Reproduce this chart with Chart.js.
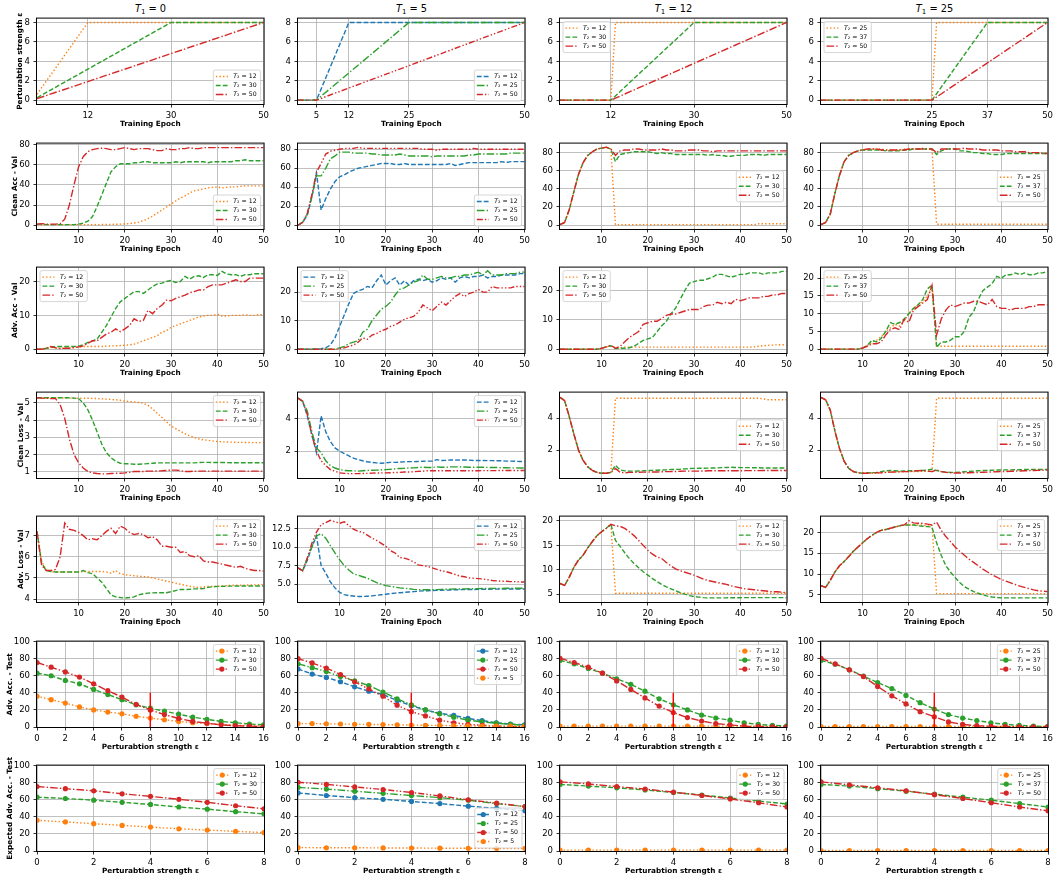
<!DOCTYPE html>
<html>
<head>
<meta charset="utf-8">
<script src="https://cdn.jsdelivr.net/npm/chart.js@4/dist/chart.umd.min.js"></script>
<style>
  body { margin: 0; background: #fff; width: 1056px; height: 878px; position: relative; overflow: hidden; font-family: "DejaVu Sans", sans-serif; }
  .ctitle { position: absolute; top: 2px; width: 227px; text-align: center; font-size: 9.8px; line-height: 14px; color: #000; }
  .ctitle sub { font-size: 7px; line-height: 0; vertical-align: -2px; }
</style>
</head>
<body>
<script>
// ---- axis / label data ----
const colTitles = ['0', '5', '12', '25'];
const rowLabels = ['Perturabtion strength ε', 'Clean Acc - Val', 'Adv. Acc - Val', 'Clean Loss - Val',
                   'Adv. Loss - Val', 'Adv. Acc. - Test', 'Expected Adv. Acc. - Test'];
const rowXTitles = ['Training Epoch', 'Training Epoch', 'Training Epoch', 'Training Epoch', 'Training Epoch',
                    'Perturabtion strength ε', 'Perturabtion strength ε'];

const epochs = [1,2,3,4,5,6,7,8,9,10,11,12,13,14,15,16,17,18,19,20,21,22,23,24,25,
                26,27,28,29,30,31,32,33,34,35,36,37,38,39,40,41,42,43,44,45,46,47,48,49,50];
const eps16 = [0,1,2,3,4,5,6,7,8,9,10,11,12,13,14,15,16];
const eps8 = [0,1,2,3,4,5,6,7,8];
const epochTicks = [10,20,30,40,50];
const eps16Ticks = [0,2,4,6,8,10,12,14,16];
const eps8Ticks = [0,2,4,6,8];

// ---- row 1: perturbation schedule ----
const epsT0_12x = [1,12,50],      epsT0_12y = [0.6,8,8];
const epsT0_30x = [1,30,50],      epsT0_30y = [0.25,8,8];
const epsT0_50x = [1,50],         epsT0_50y = [0.15,8];
const epsT5_12x = [1,5,12,50],    epsT5_12y = [0,0,8,8];
const epsT5_25x = [1,5,25,50],    epsT5_25y = [0,0,8,8];
const epsT5_50x = [1,5,50],       epsT5_50y = [0,0,8];
const epsT12_12x = [1,12,13,50],  epsT12_12y = [0,0,8,8];
const epsT12_30x = [1,12,30,50],  epsT12_30y = [0,0,8,8];
const epsT12_50x = [1,12,50],     epsT12_50y = [0,0,8];
const epsT25_25x = [1,25,26,50],  epsT25_25y = [0,0,8,8];
const epsT25_37x = [1,25,37,50],  epsT25_37y = [0,0,8,8];
const epsT25_50x = [1,25,50],     epsT25_50y = [0,0,8];

// ---- row 2: clean accuracy (val) ----
const caT0_12 = [0.5,0.5,0.5,0.5,0.5,0.5,0.5,0.5,0.5,0.5, 0.5,0.5,0.5,0.5,0.6,0.7,0.8,0.9,1,1.2,
  1.6,2.2,3,4.5,6.5,9,12,15,18,21, 24,27,29,32,34,35,36,37,37.5,38, 37,37.5,38,38,38.5,39,39,39,39,39];
const caT0_30 = [1,1,0.5,0.5,0.5,0.5,0.5,0.5,0.5,1, 2,4,8.5,18.5,30,41.5,53,58,61,61,
  61,62,62,63,63,62,62,62,62,62, 63,62,63,63,63,63,63,62,63,63, 63,63,63,64,64,65,64,64,64,64];
const caT0_50 = [1,1.5,1,1,1,1.5,6,20,40,58, 68,73,75,76,76.5,76,75,75,76,77,
  76,75,76,76,76,75,74,74,76,75, 75,76,76,77,76,76,77,77,77,77, 77,77,77,77,77,77,77,77,77,77];
const caT5_12 = [0,3,10,30,55,16,28,38,46,51, 53,56,58,60,61,62,63,64,65,65,
  65,64,64,65,64,64,64,64,64,64, 64,64,64,65,63,64,65,66,66,66, 66,66,66,66,67,66,67,67,67,67];
const caT5_25 = [0,3,12,30,52,52,60,70,73,77, 77,77,76,76,76,76,75,75,74,74,
  74,74,75,74,73,73,73,73,73,72, 73,73,73,73,73,73,73,74,74,75, 75,75,75,75,75,75,76,76,76,76];
const caT5_50 = [0,3,12,32,56,65,75,78,79,80, 81,81,81,82,81,81,81,81,81,81,
  81,81,81,81,81,81,81,80,80,80, 79,80,80,80,80,80,80,80,81,80, 80,80,80,80,80,80,80,80,80,80];
const caT12_12 = [0.5,3,17,37,56,69,77,81,84,85, 86,84,0.5,0.5,0.5,0.5,0.5,0.5,0.5,0.5,
  0.5,0.5,0.5,0.5,0.5,0.5,0.5,0.5,0.5,0.5, 0.5,0.5,0.5,0.5,0.5,0.5,0.5,0.5,0.5,0.5, 0.5,0.5,0.5,1.5,1.5,1.5,1.5,1.5,1.5,1.5];
const caT12_30 = [0.5,3,17,37,56,69,77,81,84,85, 86,84,70,78,79,80,81,81,81,81,
  80,79,80,79,79,78,78,78,78,78, 78,78,77,78,77,77,76,76,77,77, 77,78,78,78,77,78,78,78,78,78];
const caT12_50 = [0.5,3,17,37,56,69,77,81,84,85, 86,84,77,82,83,83,84,84,83,83,
  83,83,84,83,83,82,82,82,83,83, 83,82,82,81,82,82,82,82,82,82, 82,82,82,82,82,82,82,82,82,82];
const caT25_25 = [0.5,3,12,35,55,70,77,80,82,83, 84,84,84,84,83,83,83,83,84,84,
  84,84,85,84,84,1,1,1,1,1, 1,1,1,1,1,1,1,1,1,1, 1,1,1,1,1,1,1,1,1,1];
const caT25_37 = [0.5,3,12,35,55,70,77,80,82,83, 83,83,83,83,82,82,82,82,83,83,
  84,84,84,84,84,78,82,84,84,84, 82,82,81,80,80,79,79,78,78,78, 79,79,79,79,79,79,79,79,79,79];
const caT25_50 = [0.5,3,12,35,55,70,77,80,82,83, 84,84,84,83,83,83,83,83,83,84,
  84,84,84,84,84,80,84,84,84,84, 84,85,84,84,84,83,83,83,83,82, 82,82,81,81,81,80,80,80,79,79];

// ---- row 3: adversarial accuracy (val) ----
const aaT0_12 = [0,0,0.2,0.5,0.5,0.3,0.3,0.4,0.5,0.6, 0.8,0.8,0.8,0.8,0.8,0.9,1,1,1.1,1.2,
  1.3,1.5,2,2.5,3,3.5,4,5,5.5,6.5, 7,7.5,8,8.5,9,9.5,9.8,10,10,10.3, 9.8,9.8,10,10,10,10.2,10,10,10.2,10.2];
const aaT0_30 = [0,0,0.3,0.7,0.8,0.8,0.8,0.8,0.8,0.9, 1.3,2,2.5,3,5,7,9.5,12,14,15,
  16,17,17,16.5,17.5,18.5,19.3,19.5,20,20.3, 19.7,20,21.5,20.7,21.5,21.7,21.2,22,22,21.8, 23,22.2,22,22,21.5,22,22,22.3,22.3,22.3];
const aaT0_50 = [0,0,0.3,0.8,0.4,0.2,0.3,0.3,0.5,0.7, 1,1.8,2.5,2.5,3.5,4.5,5,6,5.2,6,
  7,9,8.2,8.5,11.5,10.5,12,13,14.5,14.3, 15,15.5,16,16.7,17,17.5,17.5,18.5,19,19, 19,19.5,20,20.5,20,20,21,21,21,21];
const aaT5_12 = [0,0,0,0,0,0.2,0.5,1.5,4,8, 12,16,19.5,20.5,21,22,21.5,24,26,22.5,
  24,25,22.5,24,22.5,24,24.5,24,24.5,23.5, 24,25,24.5,25,23.5,25,25.5,25,25.5,25.5, 26,25,25.5,25.5,26,26,26,26,26.5,26.5];
const aaT5_25 = [0,0,0,0,0,0,0,0,0,0.5, 1,2,2.5,3,6,7,10,12,14,15,
  16.5,19,21,21.5,22.5,23.5,24,26,24.5,24.5, 25,25.5,25,25,25.5,25.5,26,26,26.5,27, 26,27.5,26,26,26,26.5,26.5,26.5,27,27];
const aaT5_50 = [0,0,0,0,0,0,0,0,0,0.2, 0.5,1,1.5,2.5,4,3.5,5,5.5,6.5,7,
  8,8.5,9.5,10.5,11,11.5,13,15.5,14.5,13.5, 15,16.5,15.5,17,18.5,19.5,18.5,19.5,20,21, 20,20,22,21.5,21.5,21.5,21.5,22,22,22];
const aaT12_12 = [0,0,0,0,0,0,0,0,0,0.3, 0.8,1,0.5,0.5,0.7,0.7,0.7,0.7,0.7,0.7,
  0.7,0.7,0.7,0.7,0.7,0.7,0.7,0.7,0.7,0.7, 0.7,0.7,0.7,0.7,0.7,0.7,0.7,0.7,0.7,0.7, 0.7,0.7,0.8,1,1.2,1.3,1.4,1.5,1.5,1.5];
const aaT12_30 = [0,0,0,0,0,0,0,0,0,0.3, 0.8,1.2,0.2,0.3,0.3,0.5,1,2,3,3.5,
  4,6,8,9.5,12,14,17,20,22.5,23, 23.5,23.5,24,24.5,25.5,25.5,25,24.5,25,25.5, 25.5,26,26,26,25.5,26,26,26,26.5,26.5];
const aaT12_50 = [0,0,0,0,0,0,0,0,0,0.3, 0.8,1.3,0.3,1,2.5,4,5,6,8.5,9,
  9.5,9.5,10.5,11.5,12,12,12.5,13,13.5,13.5, 13.5,14.5,15,15,16,15.5,16,15.5,17,16.5, 17,17.5,17.5,17.5,18,18,18.5,18.5,19,19];
const aaT25_25 = [0,0,0,0,0,0,0,0,0,0.3, 1,2,2.5,3.5,5,6,7,6.5,8,10,
  11.5,12.5,13.5,15,17.5,0.8,0.8,0.8,0.8,0.8, 0.8,0.8,0.8,0.8,0.8,0.8,0.8,0.8,0.8,0.8, 0.8,0.8,0.8,0.8,0.8,0.8,0.8,0.8,0.8,0.8];
const aaT25_37 = [0,0,0,0,0,0,0,0,0,0.3, 1,2.5,2,3,5,7.5,7,7.5,8.5,10,
  11.5,12.5,14,17,18,0.5,2,2,2.5,3.5, 3.5,5,9,10.5,14,16.5,17.5,18.5,20.5,20, 21,21,21.5,21,21.5,21,21,21.5,21.5,22];
const aaT25_50 = [0,0,0,0,0,0,0,0,0,0.3, 0.8,1.5,1.5,2,4,5.5,6,5.5,8.5,7.5,
  11,12,13,14,18,4,8.5,11,12.5,12, 12.5,13,13,13.5,13.5,13,12.5,14,12,11.5, 11.5,11,11.5,11.5,11.5,12,12,12.5,12.5,12.5];

// ---- row 4: clean loss (val) ----
const clT0_12 = [5.3,5.3,5.3,5.3,5.3,5.3,5.28,5.28,5.28,5.28, 5.27,5.27,5.26,5.25,5.24,5.22,5.2,5.18,5.15,5.1,
  5.08,5.05,5.02,4.98,4.85,4.65,4.4,4.15,3.9,3.65, 3.5,3.35,3.2,3.08,2.98,2.9,2.85,2.82,2.78,2.75, 2.73,2.72,2.71,2.7,2.7,2.69,2.69,2.68,2.68,2.68];
const clT0_30 = [5.3,5.3,5.3,5.3,5.3,5.3,5.3,5.3,5.28,5.25, 5.0,4.6,4.0,3.3,2.6,2.1,1.8,1.6,1.48,1.45,
  1.45,1.42,1.42,1.44,1.46,1.48,1.5,1.5,1.5,1.5, 1.5,1.5,1.5,1.5,1.5,1.52,1.53,1.53,1.52,1.52, 1.52,1.52,1.51,1.51,1.51,1.51,1.51,1.51,1.51,1.51];
const clT0_50 = [5.3,5.28,5.27,5.25,5.25,4.9,4.1,2.9,2.0,1.5, 1.2,1.0,0.92,0.88,0.86,0.86,0.88,0.9,0.9,0.92,
  0.95,1.0,1.0,1.0,1.02,1.02,1.03,1.04,1.06,1.08, 1.08,1.05,1.0,1.0,1.02,1.02,1.02,1.02,1.02,1.02, 1.02,1.02,1.02,1.02,1.02,1.02,1.02,1.02,1.02,1.02];
const clT5_12 = [5.3,5.1,4.2,3.0,1.9,4.2,3.2,2.6,2.2,2.0, 1.85,1.7,1.57,1.47,1.4,1.34,1.3,1.27,1.25,1.27,
  1.3,1.3,1.32,1.33,1.35,1.35,1.36,1.37,1.38,1.38, 1.47,1.42,1.43,1.45,1.44,1.45,1.45,1.44,1.42,1.42, 1.42,1.41,1.41,1.4,1.4,1.38,1.38,1.37,1.36,1.35];
const clT5_25 = [5.3,5.1,4.5,3.2,2.2,1.9,1.4,1.1,0.95,0.85, 0.8,0.78,0.78,0.76,0.78,0.8,0.81,0.82,0.84,0.85,
  0.87,0.9,0.92,0.93,0.95,0.96,0.98,1.0,0.98,0.98, 1.02,1.0,1.0,1.02,1.02,1.02,1.01,1.0,1.0,1.0, 1.0,0.99,0.98,0.98,0.97,0.97,0.96,0.96,0.95,0.95];
const clT5_50 = [5.3,5.1,4.3,3.0,2.0,1.4,1.1,0.85,0.75,0.65, 0.62,0.6,0.6,0.6,0.61,0.62,0.63,0.64,0.65,0.65,
  0.66,0.67,0.68,0.7,0.7,0.72,0.74,0.76,0.78,0.78, 0.78,0.78,0.78,0.78,0.78,0.78,0.78,0.78,0.78,0.78, 0.79,0.79,0.79,0.79,0.8,0.8,0.8,0.8,0.8,0.8];
const clT12_12 = [5.3,5.1,4.1,3.0,2.0,1.35,0.95,0.72,0.6,0.55, 0.55,0.6,5.25,5.25,5.25,5.25,5.25,5.25,5.25,5.25,
  5.25,5.25,5.25,5.25,5.25,5.25,5.25,5.25,5.25,5.25, 5.25,5.25,5.25,5.25,5.25,5.25,5.25,5.25,5.25,5.25, 5.25,5.25,5.25,5.25,5.2,5.15,5.15,5.15,5.15,5.15];
const clT12_30 = [5.3,5.1,4.1,3.0,2.0,1.35,0.95,0.72,0.6,0.55, 0.55,0.6,1.05,0.75,0.7,0.68,0.68,0.69,0.7,0.72,
  0.73,0.74,0.75,0.76,0.78,0.79,0.8,0.82,0.84,0.85, 0.86,0.86,0.87,0.88,0.88,0.9,0.91,0.92,0.91,0.9, 0.9,0.9,0.89,0.89,0.88,0.88,0.88,0.88,0.88,0.88];
const clT12_50 = [5.3,5.1,4.1,3.0,2.0,1.35,0.95,0.72,0.6,0.55, 0.55,0.6,0.85,0.6,0.58,0.6,0.6,0.61,0.62,0.62,
  0.63,0.63,0.64,0.65,0.65,0.66,0.67,0.68,0.68,0.68, 0.68,0.69,0.7,0.7,0.7,0.7,0.7,0.7,0.7,0.7, 0.71,0.71,0.71,0.71,0.72,0.72,0.72,0.72,0.72,0.72];
const clT25_25 = [5.3,5.15,4.5,3.2,2.1,1.3,0.85,0.65,0.58,0.55, 0.55,0.56,0.57,0.58,0.6,0.62,0.63,0.64,0.65,0.65,
  0.66,0.66,0.67,0.67,0.65,5.25,5.25,5.25,5.25,5.25, 5.25,5.25,5.25,5.25,5.25,5.25,5.25,5.25,5.25,5.25, 5.25,5.25,5.25,5.25,5.25,5.25,5.25,5.25,5.25,5.25];
const clT25_37 = [5.3,5.15,4.5,3.2,2.1,1.3,0.85,0.65,0.58,0.55, 0.57,0.58,0.6,0.65,0.7,0.72,0.7,0.68,0.69,0.7,
  0.7,0.71,0.72,0.74,0.8,0.72,0.66,0.62,0.6,0.6, 0.62,0.64,0.66,0.68,0.7,0.72,0.73,0.74,0.75,0.75, 0.76,0.76,0.77,0.77,0.78,0.78,0.78,0.78,0.78,0.78];
const clT25_50 = [5.3,5.15,4.5,3.2,2.1,1.3,0.85,0.65,0.58,0.55, 0.55,0.56,0.57,0.58,0.6,0.62,0.63,0.64,0.65,0.66,
  0.68,0.7,0.72,0.68,0.65,0.75,0.65,0.6,0.58,0.56, 0.56,0.57,0.58,0.59,0.6,0.61,0.62,0.63,0.64,0.65, 0.66,0.67,0.68,0.69,0.7,0.71,0.72,0.73,0.74,0.75];

// ---- row 5: adversarial loss (val) ----
const alT0_12 = [7.2,5.8,5.35,5.3,5.28,5.28,5.28,5.28,5.28,5.28, 5.3,5.3,5.3,5.3,5.3,5.28,5.22,5.35,5.2,5.15,
  5.13,5.1,5.08,5.06,5.05,5.0,4.95,4.9,4.85,4.8, 4.75,4.7,4.65,4.6,4.57,4.55,4.57,4.6,4.6,4.6, 4.62,4.63,4.65,4.65,4.65,4.66,4.67,4.67,4.68,4.68];
const alT0_30 = [7.2,5.7,5.35,5.3,5.28,5.28,5.28,5.28,5.28,5.28, 5.35,5.25,5.2,5.0,4.8,4.5,4.2,4.1,4.07,4.05,
  4.07,4.1,4.2,4.25,4.28,4.29,4.3,4.3,4.3,4.35, 4.4,4.45,4.45,4.46,4.48,4.48,4.5,4.55,4.58,4.6, 4.6,4.61,4.61,4.62,4.62,4.62,4.62,4.62,4.62,4.62];
const alT0_50 = [7.2,5.6,5.35,5.35,5.4,6.0,7.6,7.3,7.25,7.15, 7.0,6.8,6.85,6.8,7.0,7.2,7.35,7.1,7.45,7.35,
  7.15,7.05,7.1,7.05,6.9,6.95,6.8,6.5,6.5,6.45, 6.45,6.2,6.25,6.05,6.0,6.05,5.8,5.75,5.75,5.7, 5.65,5.6,5.55,5.5,5.55,5.45,5.4,5.35,5.35,5.32];
const alT5_12 = [7.2,6.8,8.2,10,11.5,7.5,6.5,5.3,4.5,3.9, 3.6,3.45,3.4,3.35,3.35,3.38,3.42,3.5,3.57,3.65,
  3.72,3.8,3.85,3.9,3.95,4.0,4.05,4.1,4.12,4.15, 4.17,4.19,4.2,4.22,4.25,4.26,4.27,4.28,4.29,4.3, 4.31,4.32,4.33,4.34,4.35,4.35,4.35,4.35,4.35,4.35];
const alT5_25 = [7.2,6.8,8.5,10,11.5,11.8,11.2,10.2,9.2,8.3, 7.5,6.9,6.4,6.2,6.0,5.8,5.5,5.2,5.0,4.8,
  4.7,4.6,4.5,4.45,4.4,4.3,4.25,4.25,4.25,4.25, 4.27,4.3,4.32,4.33,4.35,4.36,4.37,4.38,4.39,4.4, 4.41,4.42,4.43,4.43,4.44,4.45,4.45,4.45,4.45,4.45];
const alT5_50 = [7.2,6.8,8.5,10.5,12,13,13.3,13.6,13.4,13.2, 13.4,12.9,12.4,12.1,12.0,11.6,11.2,10.9,10.5,10.1,
  9.5,9.2,8.6,8.5,8.3,8.0,7.6,7.5,7.4,7.2, 7.0,6.8,6.7,6.5,6.3,6.1,6.0,5.85,5.8,5.75, 5.7,5.6,5.5,5.45,5.4,5.4,5.35,5.35,5.3,5.3];
const alT12_12 = [7.2,6.8,8.5,10.5,12,13,14.5,15.8,17,17.8, 18.5,19.3,5.2,5.2,5.2,5.2,5.2,5.2,5.2,5.2,
  5.2,5.2,5.2,5.2,5.2,5.2,5.2,5.2,5.2,5.2, 5.2,5.2,5.2,5.2,5.2,5.2,5.2,5.2,5.2,5.2, 5.2,5.2,5.2,5.2,5.2,5.2,5.2,5.2,5.2,5.2];
const alT12_30 = [7.2,6.8,8.5,10.5,12,13,14.5,15.8,17,17.8, 18.5,19.3,16,14.8,13.5,12.3,11.3,10.4,9.6,8.9,
  8.2,7.6,7.0,6.5,6.1,5.7,5.3,5.0,4.7,4.5, 4.4,4.3,4.25,4.25,4.25,4.25,4.25,4.27,4.28,4.28, 4.3,4.3,4.3,4.3,4.3,4.3,4.3,4.3,4.3,4.3];
const alT12_50 = [7.2,6.8,8.5,10.5,12,13,14.5,15.8,17,17.8, 18.5,19.3,19.0,18.9,18.5,17.8,17.0,16.0,15.0,14.0,
  13.2,12.6,12.3,11.5,10.8,10.2,9.8,9.5,9.2,8.9, 8.5,8.1,7.8,7.6,7.4,7.2,7.0,6.7,6.5,6.3, 6.1,6.0,5.9,5.8,5.7,5.6,5.5,5.5,5.4,5.3];
const alT25_25 = [7.2,6.8,8.5,10.5,12,13,14.2,15.5,16.5,17.5, 18.5,19.3,20,20.5,20.7,21,21.3,21.6,21.8,21.7,
  21.9,21.8,21.8,21.5,21.7,5.3,5.3,5.3,5.3,5.3, 5.3,5.3,5.3,5.3,5.3,5.3,5.3,5.3,5.3,5.3, 5.3,5.3,5.3,5.3,5.3,5.3,5.3,5.3,5.3,5.3];
const alT25_37 = [7.2,6.8,8.5,10.5,12,13,14.2,15.5,16.5,17.5, 18.5,19.3,20,20.5,20.7,21,21.3,21.6,21.8,21.8,
  21.8,21.6,21.5,21.4,21.3,17.5,14.5,12.0,10.5,9.2, 8.0,7.0,6.4,5.8,5.4,5.0,4.7,4.5,4.4,4.3, 4.3,4.3,4.3,4.3,4.3,4.3,4.3,4.3,4.3,4.3];
const alT25_50 = [7.2,6.8,8.5,10.5,12,13,14.2,15.5,16.5,17.5, 18.5,19.3,20,20.5,20.7,21,21.3,21.6,21.8,22.8,
  22.3,22.2,22.2,22.0,21.8,22.5,20.5,19.0,17.8,16.5, 15.5,14.5,13.6,12.8,12.0,11.2,10.5,9.8,9.3,8.7, 8.3,7.9,7.5,7.1,6.8,6.5,6.2,6.0,5.9,5.8];

// ---- row 6: adversarial accuracy (test) vs eps ----
const advT0_12 = [36,32,28,23.5,20,17.5,15.5,12.5,10.5,8.5,6.5,5,4,3,2,1.5,1];
const advT0_30 = [63,60,54.5,50.5,44,38,32,26,22,18.5,15,11.5,9,6.5,5,3.5,2.5];
const advT0_50 = [75.5,70,64.5,58.5,50.5,42.5,35,26.5,20,14.5,10,6.5,4.5,2.5,1.5,1,0.5];
const advT5_12 = [68,62,58,53,47,42,38,31,25,20,16,13.5,10,7.5,5,3.5,2.5];
const advT5_25 = [74,69.5,65,59,54,48.5,41,33,26,20,15.5,11.5,8,6,4.5,3,2];
const advT5_50 = [80,75,69,61.5,53,44.5,36,25.5,18,13,8,5,3,2,1,0.5,0.3];
const advT5_5 = [4,4,3.8,3.5,3.2,3,2.8,2.5,2.3,2,1.8,1.5,1.3,1.2,1,1,0.8];
const advT12_12 = [1,1,1,1,1,1,1,1,1,1,1,1,1,1,1,1,1];
const advT12_30 = [78,74,68.5,63,56.5,50,42,33,26,20,14,10.5,8,5,3,2,1];
const advT12_50 = [80.5,75.5,70,63,54,44,34,24.5,17,11,7,4,2.5,1,0.5,0.3,0.2];
const advT25_25 = [0.5,0.5,0.5,0.5,0.5,0.5,0.5,0.5,0.5,0.5,0.5,0.5,0.5,0.5,0.5,0.5,0.5];
const advT25_37 = [78,73.5,67,59.5,52,45,37,28.5,21,14.5,10.5,7.5,5,3,2,1,0.5];
const advT25_50 = [80.5,74,67,59,47.5,36.5,27,18,12,6,3,1.5,0.8,0.5,0.3,0.2,0.1];
const refEps = [8, 8], refAcc = [0, 40];

// ---- row 7: expected adversarial accuracy (test) vs eps ----
const eadvT0_12 = [36,34,32,30,28,26,24.5,23,21.5];
const eadvT0_30 = [63,61.5,59.5,57,54.5,51.5,49,46,43.5];
const eadvT0_50 = [75.5,73,70.5,67,64,60.5,57,53,49.5];
const eadvT5_12 = [68,65,62.5,60.5,58,55.5,52.5,50,47];
const eadvT5_25 = [74.5,72.5,70,67.5,65,62.5,59.5,55.5,52];
const eadvT5_50 = [80.5,78,75,72,68.5,64.5,60,56,52];
const eadvT5_5 = [4,3.8,3.8,3.6,3.5,3.3,3.2,3,3];
const eadvT12_12 = [1,1,1,1,1,1,1,1,1];
const eadvT12_30 = [78,76,74,71.5,68.5,65.5,62,58.5,55];
const eadvT12_50 = [81,78.5,75.5,72.5,69,65,61,56.5,51.5];
const eadvT25_25 = [0.5,0.5,0.5,0.5,0.5,0.5,0.5,0.5,0.5];
const eadvT25_37 = [78,76,73,70,66.5,63,59.5,55.5,51.5];
const eadvT25_50 = [81,77.5,74,70.5,66,61.5,56.5,51.5,47];

// ---- styling ----
const FONT = '"DejaVu Sans", sans-serif';
const COLORS = { orange: '#ff7f0e', green: '#2ca02c', red: '#d62728', blue: '#1f77b4' };
const DASH = { dot: [1.4, 2.2], dash: [4.8, 2.1], dashdot: [7.6, 2.1, 1.4, 2.1], dashdotdot: [6, 2.1, 1.4, 2.1, 1.4, 2.1] };
// legend label / colour / line style per column
const colSeries = [
  [['12', 'orange', 'dot'], ['30', 'green', 'dash'], ['50', 'red', 'dashdot']],
  [['12', 'blue', 'dash'], ['25', 'green', 'dashdot'], ['50', 'red', 'dashdotdot'], ['5', 'orange', 'dot']],
  [['12', 'orange', 'dot'], ['30', 'green', 'dash'], ['50', 'red', 'dashdot']],
  [['25', 'orange', 'dot'], ['37', 'green', 'dash'], ['50', 'red', 'dashdot']],
];

const LEFTS = [37, 298, 560, 821];
const TOPS = [16, 141, 265, 390, 514, 639, 763];
const yTitleCenter = [20, 15, 15, 21, 21, 10, 10];
const W = 227, H = 88, PL = 37, PR = 8, PT = 6, PB = 28;

function pts(xs, ys) { return ys.map((y, i) => ({ x: xs[i], y })); }

// black box around the axes
const framePlugin = {
  id: 'frame',
  afterDatasetsDraw(chart) {
    const { ctx, chartArea: a } = chart;
    ctx.save();
    ctx.strokeStyle = '#000';
    ctx.lineWidth = 1;
    ctx.strokeRect(a.left - 0.5, a.top - 0.5, a.width + 1, a.height + 1);
    ctx.restore();
  }
};

// matplotlib-like legend drawn inside the axes
const insideLegend = {
  id: 'insideLegend',
  afterDraw(chart, args, opts) {
    const loc = opts.loc;
    if (!loc) return;
    const items = chart.data.datasets.filter(d => !d.noLegend);
    const ctx = chart.ctx, a = chart.chartArea;
    const fs = 6.2, rowH = 9, padY = 2, padL = 2.5, handle = 12, gap = 5.5, padR = 4, m = 3;
    ctx.save();
    const rest = d => d.label.slice(1);
    ctx.font = `italic ${fs}px ${FONT}`;
    const tw = ctx.measureText('T').width;
    ctx.font = `${fs}px ${FONT}`;
    const textW = tw + Math.max(...items.map(d => ctx.measureText(rest(d)).width));
    const w = padL + handle + gap + textW + padR;
    const h = padY * 2 + rowH * items.length;
    const x = loc.includes('right') ? a.right - m - w : a.left + m;
    let y;
    if (loc.startsWith('upper')) y = a.top + m;
    else if (loc.startsWith('lower')) y = a.bottom - m - h;
    else y = (a.top + a.bottom) / 2 - h / 2;

    ctx.beginPath();
    ctx.roundRect(x, y, w, h, 2);
    ctx.fillStyle = 'rgba(255,255,255,0.8)';
    ctx.fill();
    ctx.strokeStyle = '#cccccc';
    ctx.lineWidth = 0.8;
    ctx.stroke();

    items.forEach((d, i) => {
      const cy = y + padY + rowH * i + rowH / 2;
      const hx = x + padL;
      ctx.strokeStyle = d.borderColor;
      ctx.lineWidth = d.borderWidth;
      ctx.setLineDash(d.borderDash || []);
      ctx.beginPath();
      ctx.moveTo(hx, cy);
      ctx.lineTo(hx + handle, cy);
      ctx.stroke();
      ctx.setLineDash([]);
      if (d.marker) {
        ctx.fillStyle = d.borderColor;
        ctx.beginPath();
        ctx.arc(hx + handle / 2, cy, 2.6, 0, Math.PI * 2);
        ctx.fill();
      }
      ctx.fillStyle = '#000';
      ctx.textBaseline = 'middle';
      ctx.font = `italic ${fs}px ${FONT}`;
      ctx.fillText('T', hx + handle + gap, cy);
      ctx.font = `${fs}px ${FONT}`;
      ctx.fillText(rest(d), hx + handle + gap + tw, cy + 0.3);
    });
    ctx.restore();
  }
};

function addPanel(r, c, pairs, xAxis, yRange, yTicks, loc, yDec) {
  const L = LEFTS[c], T = TOPS[r];
  const cv = document.createElement('canvas');
  cv.width = PL + W + PR;
  cv.height = PT + H + PB;
  cv.style.cssText = `position:absolute;left:${L - PL}px;top:${T - PT}px;`;
  document.body.appendChild(cv);

  const marker = r >= 5;
  const series = pairs.map((p, i) => {
    const [lab, col, dash] = colSeries[c][i];
    return { label: 'T₂ = ' + lab, color: COLORS[col], dash: DASH[dash], data: pts(p[0], p[1]), marker };
  });
  if (r === 5) series.push({ label: '', color: '#ff0000', dash: [], data: pts(refEps, refAcc), marker: false, noLegend: true });

  const n = series.length;
  const datasets = series.map((s, i) => ({
    label: s.label, data: s.data,
    borderColor: s.color, backgroundColor: s.color,
    borderWidth: 1.4, borderDash: s.dash,
    pointRadius: s.marker ? 2.6 : 0, pointHoverRadius: 0,
    pointBackgroundColor: s.color, pointBorderWidth: 0,
    tension: 0, order: n - i,
    marker: s.marker, noLegend: s.noLegend
  }));

  const gridCfg = { color: '#b0b0b0', lineWidth: 0.8, drawTicks: true, tickLength: 3.5, tickColor: '#000', tickWidth: 0.8 };
  const tickFont = { family: FONT, size: 8.5 };
  const titleFont = { family: FONT, size: 7.3, weight: 'bold' };

  new Chart(cv, {
    type: 'line',
    data: { datasets },
    options: {
      responsive: false, animation: false, devicePixelRatio: 1, events: [],
      layout: { padding: { top: PT, right: PR, left: 0, bottom: 0 } },
      plugins: { legend: { display: false }, tooltip: { enabled: false }, insideLegend: { loc } },
      scales: {
        x: {
          type: 'linear', min: xAxis.min, max: xAxis.max,
          afterBuildTicks: s => { s.ticks = xAxis.ticks.map(v => ({ value: v })); },
          afterFit: s => { s.height = PB; },
          grid: gridCfg, border: { display: false },
          ticks: { color: '#000', font: tickFont, padding: 3, maxRotation: 0, autoSkip: false, callback: v => String(v) },
          title: { display: true, text: rowXTitles[r], color: '#000', font: titleFont, padding: { top: 0, bottom: 3.5 } }
        },
        y: {
          type: 'linear', min: yRange[0], max: yRange[1],
          afterBuildTicks: s => { s.ticks = yTicks.map(v => ({ value: v })); },
          afterFit: s => { s.width = PL; },
          grid: gridCfg, border: { display: false },
          ticks: { color: '#000', font: tickFont, padding: 3.5, autoSkip: false,
                   callback: v => yDec ? v.toFixed(yDec) : String(v) },
          title: { display: c === 0, text: rowLabels[r], color: '#000', font: titleFont,
                   padding: { top: yTitleCenter[r] - 4.4, bottom: 0 } }
        }
      }
    },
    plugins: [framePlugin, insideLegend]
  });
}

// column titles
colTitles.forEach((t, c) => {
  const d = document.createElement('div');
  d.className = 'ctitle';
  d.style.left = LEFTS[c] + 'px';
  d.innerHTML = '<i>T</i><sub>1</sub> = ' + t;
  document.body.appendChild(d);
});

const X_EPOCH = { min: 1, max: 50, ticks: epochTicks };
const X_E16 = { min: 0, max: 16, ticks: eps16Ticks };
const X_E8 = { min: 0, max: 8, ticks: eps8Ticks };
const E = epochs;

// row 1
addPanel(0, 0, [[epsT0_12x, epsT0_12y], [epsT0_30x, epsT0_30y], [epsT0_50x, epsT0_50y]], { min: 1, max: 50, ticks: [12, 30, 50] }, [-0.4, 8.4], [0, 2, 4, 6, 8], 'lower right');
addPanel(0, 1, [[epsT5_12x, epsT5_12y], [epsT5_25x, epsT5_25y], [epsT5_50x, epsT5_50y]], { min: 1, max: 50, ticks: [5, 12, 25, 50] }, [-0.4, 8.4], [0, 2, 4, 6, 8], 'lower right');
addPanel(0, 2, [[epsT12_12x, epsT12_12y], [epsT12_30x, epsT12_30y], [epsT12_50x, epsT12_50y]], { min: 1, max: 50, ticks: [12, 30, 50] }, [-0.4, 8.4], [0, 2, 4, 6, 8], 'upper left');
addPanel(0, 3, [[epsT25_25x, epsT25_25y], [epsT25_37x, epsT25_37y], [epsT25_50x, epsT25_50y]], { min: 1, max: 50, ticks: [25, 37, 50] }, [-0.4, 8.4], [0, 2, 4, 6, 8], 'upper left');

// row 2
const accTicks = [0, 20, 40, 60, 80];
addPanel(1, 0, [[E, caT0_12], [E, caT0_30], [E, caT0_50]], X_EPOCH, [-3.8, 81], accTicks, 'lower right');
addPanel(1, 1, [[E, caT5_12], [E, caT5_25], [E, caT5_50]], X_EPOCH, [-4, 86], accTicks, 'lower right');
addPanel(1, 2, [[E, caT12_12], [E, caT12_30], [E, caT12_50]], X_EPOCH, [-4.3, 90], accTicks, 'center right');
addPanel(1, 3, [[E, caT25_25], [E, caT25_37], [E, caT25_50]], X_EPOCH, [-4.3, 90], accTicks, 'center right');

// row 3
addPanel(2, 0, [[E, aaT0_12], [E, aaT0_30], [E, aaT0_50]], X_EPOCH, [-1.1, 24.1], [0, 10, 20], 'upper left');
addPanel(2, 1, [[E, aaT5_12], [E, aaT5_25], [E, aaT5_50]], X_EPOCH, [-1.3, 28.6], [0, 10, 20], 'upper left');
addPanel(2, 2, [[E, aaT12_12], [E, aaT12_30], [E, aaT12_50]], X_EPOCH, [-1.3, 27.8], [0, 10, 20], 'upper left');
addPanel(2, 3, [[E, aaT25_25], [E, aaT25_37], [E, aaT25_50]], X_EPOCH, [-1.1, 23], [0, 5, 10, 15, 20], 'upper left');

// row 4
addPanel(3, 0, [[E, clT0_12], [E, clT0_30], [E, clT0_50]], X_EPOCH, [0.62, 5.6], [1, 2, 3, 4, 5], 'upper right');
addPanel(3, 1, [[E, clT5_12], [E, clT5_25], [E, clT5_50]], X_EPOCH, [0.33, 5.64], [2, 4], 'upper right');
addPanel(3, 2, [[E, clT12_12], [E, clT12_30], [E, clT12_50]], X_EPOCH, [0.25, 5.6], [2, 4], 'center right');
addPanel(3, 3, [[E, clT25_25], [E, clT25_37], [E, clT25_50]], X_EPOCH, [0.25, 5.6], [2, 4], 'center right');

// row 5
addPanel(4, 0, [[E, alT0_12], [E, alT0_30], [E, alT0_50]], X_EPOCH, [3.86, 7.9], [4, 5, 6, 7], 'upper right');
addPanel(4, 1, [[E, alT5_12], [E, alT5_25], [E, alT5_50]], X_EPOCH, [2.6, 14.1], [5, 7.5, 10, 12.5], 'upper right', 1);
addPanel(4, 2, [[E, alT12_12], [E, alT12_30], [E, alT12_50]], X_EPOCH, [3.4, 20.9], [5, 10, 15, 20], 'upper right');
addPanel(4, 3, [[E, alT25_25], [E, alT25_37], [E, alT25_50]], X_EPOCH, [3.3, 23.8], [5, 10, 15, 20], 'upper right');

// row 6
const pctTicks = [0, 20, 40, 60, 80, 100];
addPanel(5, 0, [[eps16, advT0_12], [eps16, advT0_30], [eps16, advT0_50]], X_E16, [0, 100], pctTicks, 'upper right');
addPanel(5, 1, [[eps16, advT5_12], [eps16, advT5_25], [eps16, advT5_50], [eps16, advT5_5]], X_E16, [0, 100], pctTicks, 'upper right');
addPanel(5, 2, [[eps16, advT12_12], [eps16, advT12_30], [eps16, advT12_50]], X_E16, [0, 100], pctTicks, 'upper right');
addPanel(5, 3, [[eps16, advT25_25], [eps16, advT25_37], [eps16, advT25_50]], X_E16, [0, 100], pctTicks, 'upper right');

// row 7
addPanel(6, 0, [[eps8, eadvT0_12], [eps8, eadvT0_30], [eps8, eadvT0_50]], X_E8, [0, 100], pctTicks, 'upper right');
addPanel(6, 1, [[eps8, eadvT5_12], [eps8, eadvT5_25], [eps8, eadvT5_50], [eps8, eadvT5_5]], X_E8, [0, 100], pctTicks, 'lower right');
addPanel(6, 2, [[eps8, eadvT12_12], [eps8, eadvT12_30], [eps8, eadvT12_50]], X_E8, [0, 100], pctTicks, 'upper right');
addPanel(6, 3, [[eps8, eadvT25_25], [eps8, eadvT25_37], [eps8, eadvT25_50]], X_E8, [0, 100], pctTicks, 'upper right');
</script>
</body>
</html>
